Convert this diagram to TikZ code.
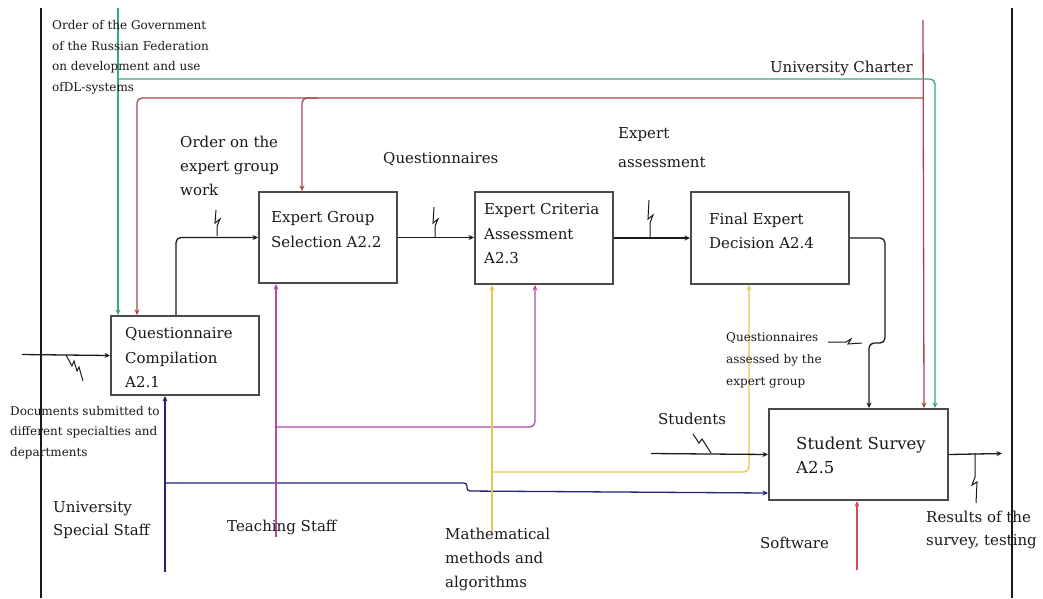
\documentclass[tikz,border=0pt]{standalone}
\usepackage{fontspec}
\setmainfont{DejaVu Serif}
\usetikzlibrary{arrows.meta,calc}
\definecolor{ink}{HTML}{1A1A1A}
\definecolor{boxline}{HTML}{4A4A4A}
\definecolor{govgreen}{HTML}{3AA878}
\definecolor{charter}{HTML}{A8464E}
\definecolor{navy}{HTML}{23237A}
\definecolor{teach}{HTML}{B04AA8}
\definecolor{mathy}{HTML}{E6C650}
\definecolor{soft}{HTML}{C8505A}
\tikzset{
  box/.style={draw=boxline, line width=2pt, fill=white, anchor=north west, inner sep=0pt},
  conn/.style={line width=1.3pt, rounded corners=5pt},
  arr/.style={conn, -{Stealth[length=5.5pt,width=5pt]}},
  lbl/.style={text=ink, inner sep=0pt, align=left, anchor=west, font=\fontsize{15}{24}\selectfont},
  smalllbl/.style={lbl, font=\fontsize{12}{20.5}\selectfont},
  boxtext/.style={lbl, font=\fontsize{15}{24.5}\selectfont},
  squig/.style={line width=1pt, draw=ink},
  frame/.style={line width=1.4pt, draw=ink}
}
\begin{document}
\begin{tikzpicture}[x=1pt,y=-1pt]
\useasboundingbox (0,0) rectangle (1043,598);
\fill[white] (0,0) rectangle (1043,598);

% frame lines
\coordinate (fl1) at (41,8);
\coordinate (fl2) at (41,598);
\coordinate (fr1) at (1012,8);
\coordinate (fr2) at (1012,598);
\draw[frame] (fl1) -- (fl2);
\draw[frame] (fr1) -- (fr2);

% boxes
\node[box, minimum width=148, minimum height=79] (a1) at (110,315) {};
\node[box, minimum width=138, minimum height=91] (a2) at (258,191) {};
\node[box, minimum width=138, minimum height=92] (a3) at (474,191) {};
\node[box, minimum width=158, minimum height=92] (a4) at (690,191) {};
\node[box, minimum width=179, minimum height=91] (a5) at (768,408) {};

\node[boxtext] (t1) at ($(a1.west)+(15,2.5)$) {Questionnaire\\Compilation\\A2.1};
\node[boxtext] (t2) at ($(a2.west)+(13,-8)$) {Expert Group\\Selection A2.2};
\node[boxtext] (t3) at ($(a3.west)+(10,-4)$) {Expert Criteria\\Assessment\\A2.3};
\node[boxtext] (t4) at ($(a4.west)+(19,-7)$) {Final Expert\\Decision A2.4};
\node[lbl, font=\fontsize{16.5}{24}\selectfont] (t5) at ($(a5.west)+(28,0.5)$) {Student Survey\\A2.5};

% coordinates for free ends
\coordinate (a1out) at ($(a1.north west)+(66,0)$);
\coordinate (a5in) at ($(a5.north west)+(101,0)$);
\coordinate (turn4) at (885,343);
\coordinate (ch) at (923,20);
\coordinate (chA1) at ($(a1.north west)+(27,0)$);
\coordinate (chA2) at ($(a2.north west)+(44,0)$);
\coordinate (chA5) at ($(a5.north west)+(156,0)$);
\coordinate (chbr) at (318,98);
\coordinate (gv) at (118,8);
\coordinate (gA1) at ($(a1.north west)+(8,0)$);
\coordinate (gA5) at ($(a5.north west)+(167,0)$);
\coordinate (gbr) at (118,79);
\coordinate (nv) at (165,572);
\coordinate (nA1) at ($(a1.south west)+(55,0)$);
\coordinate (nbr) at (165,483);
\coordinate (nstep) at (467,491);
\coordinate (nA5) at ($(a5.south west)+(0,-8)$);
\coordinate (mv) at (276,537);
\coordinate (mA2) at ($(a2.south west)+(18,0)$);
\coordinate (mA3) at ($(a3.south west)+(61,0)$);
\coordinate (mbr) at (276,427);
\coordinate (yv) at (492,532);
\coordinate (yA3) at ($(a3.south west)+(18,0)$);
\coordinate (yA4) at ($(a4.south west)+(59,0)$);
\coordinate (ybr) at (492,472);
\coordinate (stu) at (651,453.5);
\coordinate (doc) at (22,354.5);
\coordinate (sw) at (857,570);
\coordinate (swA5) at ($(a5.south west)+(89,0)$);
\coordinate (res) at (1002,453.5);

% main flow
\draw[arr, draw=ink] (a1out) |- (a2.west);
\draw[arr, draw=ink] (a2.east) -- (a2.east -| a3.west);
\draw[arr, draw=ink] (a3.east) -- (a3.east -| a4.west);
\draw[arr, draw=ink] (a4.east) -| (turn4) -| (a5in);

% University Charter (maroon)
\draw[arr, draw=charter] (ch) -- (chA5);
\draw[arr, draw=charter] (ch |- chbr) -| (chA1);
\draw[arr, draw=charter] (chbr) -| (chA2);

% Government order (green)
\draw[arr, draw=govgreen] (gv) -- (gA1);
\draw[arr, draw=govgreen] (gbr) -| (gA5);

% University special staff (navy)
\draw[arr, draw=navy] (nv) -- (nA1);
\draw[arr, draw=navy, rounded corners=3pt] (nbr) -| (nstep) -- (nA5);

% Teaching staff (magenta)
\draw[arr, draw=teach] (mv) -- (mA2);
\draw[arr, draw=teach] (mbr) -| (mA3);

% Mathematical methods (yellow)
\draw[arr, draw=mathy] (yv) -- (yA3);
\draw[arr, draw=mathy] (ybr) -| (yA4);

% other inputs/outputs
\draw[arr, draw=ink] (stu) -- (a5.west);
\draw[arr, draw=ink] (doc) -- (a1.west);
\draw[arr, draw=soft] (sw) -- (swA5);
\draw[arr, draw=ink] (a5.east) -- (res);

% squiggles
\draw[squig] (217,236) -- ++(0,-10) -- ++(3,-7) -- ++(-5,4) -- ++(1,-13);
\draw[squig] (435,237) -- ++(0,-11) -- ++(3,-7) -- ++(-5,4) -- ++(1,-16);
\draw[squig] (650,237) -- ++(0,-14) -- ++(3,-8) -- ++(-5,4) -- ++(1,-19);
\draw[squig] (66,355) -- ++(6,11) -- ++(2,-5) -- ++(3,10) -- ++(2,-4) -- ++(4,14);
\draw[squig] (693,434) -- ++(6,9) -- ++(3,-4) -- ++(9,14);
\draw[squig] (975,453) -- ++(0,24) -- ++(-3,8) -- ++(5,-3) -- ++(-1,21);
\draw[squig] (828,342) -- ++(18,0) -- ++(5,-3) -- ++(-3,5) -- ++(14,-1);

% labels
\node[smalllbl] (lgov) at (52,57.5) {Order of the Government\\of the Russian Federation\\on development and use\\ofDL-systems};
\node[lbl, anchor=east] (lchar) at (913,68) {University Charter};
\node[lbl] (lord) at (180,166) {Order on the\\expert group\\work};
\node[lbl] (lq) at (383,159) {Questionnaires};
\node[lbl, font=\fontsize{15}{29}\selectfont] (lea) at (618,147.5) {Expert\\assessment};
\node[smalllbl, font=\fontsize{12}{22}\selectfont] (lqa) at (726,360.5) {Questionnaires\\assessed by the\\expert group};
\node[smalllbl] (ldoc) at (10,432.5) {Documents submitted to\\different specialties and\\departments};
\node[lbl] (lstu) at (658,419) {Students};
\node[lbl, font=\fontsize{15}{23}\selectfont] (luss) at (53,520.5) {University\\Special Staff};
\node[lbl] (lts) at (227,527) {Teaching Staff};
\node[lbl] (lmm) at (445,559) {Mathematical\\methods and\\algorithms};
\node[lbl] (lsw) at (760,543) {Software};
\node[lbl, font=\fontsize{15}{23}\selectfont] (lres) at (926,529.5) {Results of the\\survey, testing};
\end{tikzpicture}
\end{document}
